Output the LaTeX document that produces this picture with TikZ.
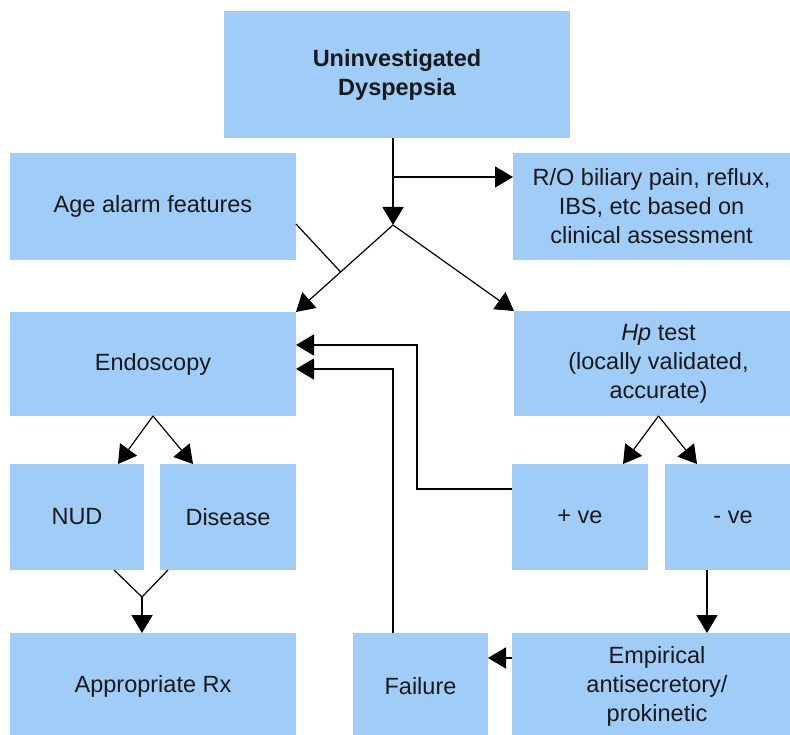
\documentclass[tikz,border=0pt]{standalone}
\usepackage{fontspec}
\setmainfont{Liberation Sans}
\usetikzlibrary{arrows.meta,calc}
\definecolor{boxblue}{RGB}{160,204,248}
\begin{document}
\begin{tikzpicture}[x=1pt,y=-1pt,
  box/.style={fill=boxblue, draw=none, inner sep=0pt, outer sep=0pt, align=center,
    font=\fontsize{23.5pt}{29pt}\selectfont, text=black!90},
  titlebox/.style={box, font=\fontsize{23.5pt}{29pt}\selectfont\bfseries},
  conn/.style={line width=1.8pt, black},
  diag/.style={line width=1.2pt, black},
  tip/.style={-{Triangle[length=18pt,width=21pt]}}
]
\useasboundingbox (0,0) rectangle (790,735);
\clip (0,0) rectangle (790,735);
\fill[white] (0,0) rectangle (790,735);

% boxes
\node[titlebox, minimum width=346pt, minimum height=127pt] (top) at (397,74.5) {Uninvestigated\\Dyspepsia};
\node[box, minimum width=277pt, minimum height=107pt] (ro) at (651.5,206.5) {R/O biliary pain, reflux,\\IBS, etc based on\\clinical assessment};
\node[box, minimum width=286pt, minimum height=107pt] (age) at (153,206.5) {Age alarm features};
\node[box, minimum width=286pt, minimum height=104pt] (endo) at (153,364) {Endoscopy};
\node[box, minimum width=289pt, minimum height=105pt] (hp) at (658.5,363.5) {\textit{Hp} test\\(locally validated,\\accurate)};
\node[box, minimum width=134pt, minimum height=106pt] (nud) at (77,517) {NUD};
\node[box, minimum width=136pt, minimum height=106pt] (dis) at (228,517) {Disease};
\node[box, minimum width=136pt, minimum height=106pt] (pos) at (580,517) {+ ve};
\node[box, minimum width=136pt, minimum height=106pt] (neg) at (733,517) {- ve};
\node[box, minimum width=286pt, minimum height=107pt] (rx) at (153,686.5) {Appropriate Rx};
\node[box, minimum width=135pt, minimum height=107pt] (fail) at (420.5,686.5) {Failure};
\node[box, minimum width=290pt, minimum height=107pt] (emp) at (657,686.5) {Empirical\\antisecretory/\\prokinetic};

% helper coordinates
\coordinate (j) at (393,225);
\coordinate (b) at (393,177);
\coordinate (agex) at (296,224);
\coordinate (n1) at (118,464);
\coordinate (d1) at (193,464);
\coordinate (n2) at (114,570);
\coordinate (d2) at (168,570);
\coordinate (m) at (142,597);
\coordinate (p1) at (623,464);
\coordinate (q1) at (697,464);
\coordinate (pe) at (512,489);
\coordinate (pk) at (417,489);
\coordinate (fk) at (393,369);
\coordinate (ne) at (707,570);

% connectors
\draw[conn, tip] (j |- top.south) -- (j);
\draw[conn, tip] (b) -- (b -| ro.west);
\draw[diag, tip] (j) -- (endo.north east);
\draw[diag, tip] (j) -- (hp.north west);
\draw[diag] (agex) -- ($(j)!0.54!(endo.north east)$);

\draw[diag, tip] (endo.south) -- (n1);
\draw[diag, tip] (endo.south) -- (d1);
\draw[diag] (n2) -- (m) -- (d2);
\draw[conn, tip] (m) -- (m |- rx.north);

\draw[diag, tip] (hp.south) -- (p1);
\draw[diag, tip] (hp.south) -- (q1);

\draw[conn, tip] (pe) -- (pk) -- (417,345) -- (endo.east |- 0,345);
\draw[conn, tip] (fk |- fail.north) -- (fk) -- (fk -| endo.east);
\draw[conn, tip] (ne) -- (ne |- emp.north);
\draw[conn, tip] (emp.west |- 0,658) -- (fail.east |- 0,658);
\end{tikzpicture}
\end{document}
